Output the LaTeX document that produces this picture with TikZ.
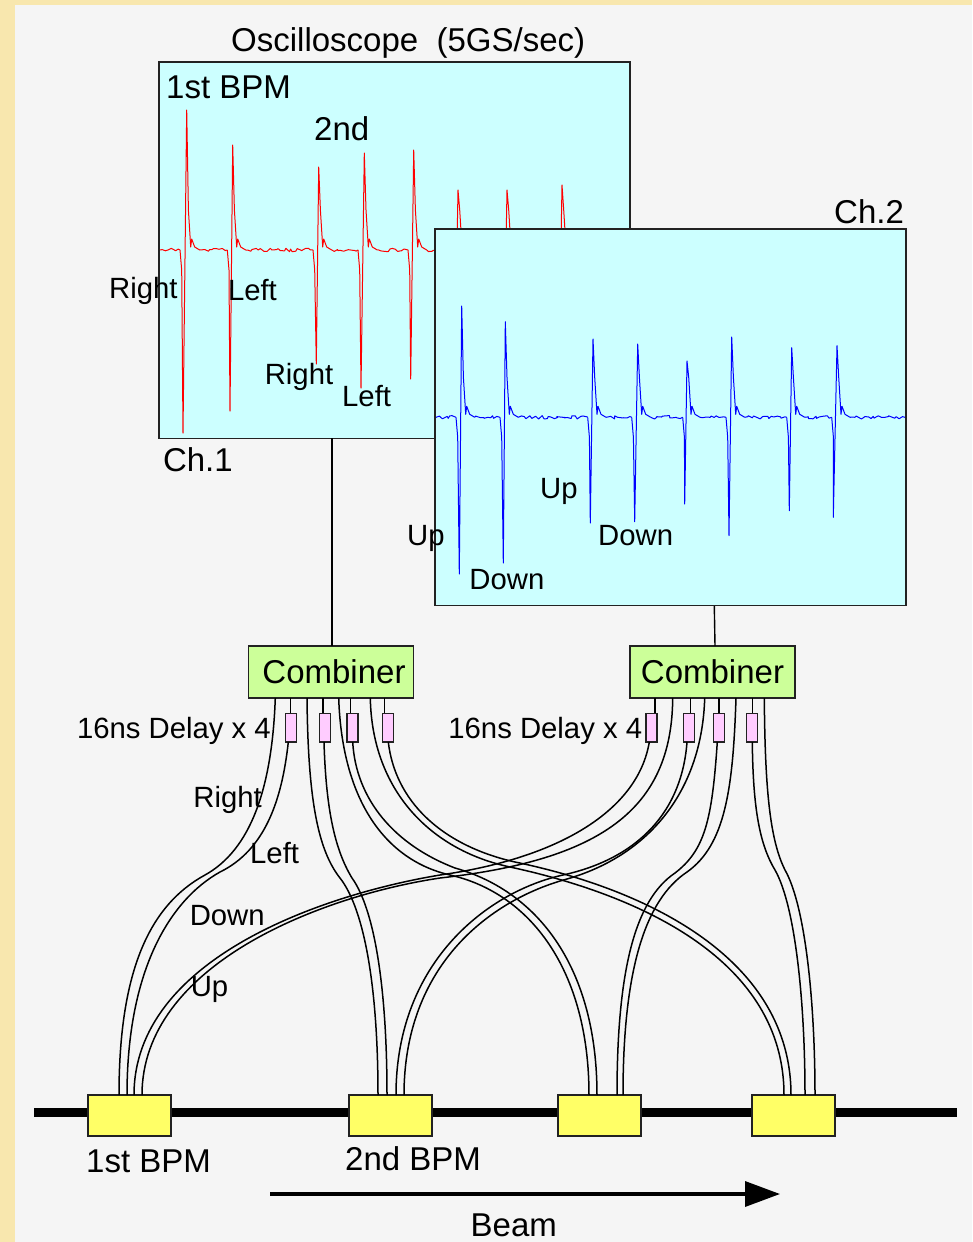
\documentclass[tikz,border=0pt]{standalone}
\usepackage{fontspec}
\setmainfont{Liberation Sans}
\usetikzlibrary{arrows.meta,decorations.pathmorphing}
\definecolor{cream}{HTML}{F8E7AE}
\definecolor{panel}{HTML}{F5F5F5}
\definecolor{scope}{HTML}{CCFFFF}
\definecolor{combfill}{HTML}{CCFF99}
\definecolor{delayfill}{HTML}{FFCCFF}
\definecolor{bpmfill}{HTML}{FFFF66}
\definecolor{edge}{HTML}{222222}
\newcommand\bigfont{\fontsize{33}{36}\selectfont}
\newcommand\midfont{\fontsize{29.3}{33}\selectfont}
\tikzset{
  boxbase/.style={draw=edge,line width=1.5pt,rectangle,inner sep=0pt,outer sep=0pt,anchor=north west},
  scopebox/.style={boxbase,fill=scope,minimum width=471pt,minimum height=376.5pt},
  combbox/.style={boxbase,fill=combfill,minimum width=165pt,minimum height=52pt,font=\bigfont},
  delaybox/.style={boxbase,fill=delayfill,minimum width=11pt,minimum height=28.5pt},
  bpmbox/.style={boxbase,fill=bpmfill,minimum width=83pt,minimum height=41pt},
  bigtext/.style={inner sep=0pt,anchor=base west,font=\bigfont,text=black},
  midtext/.style={inner sep=0pt,anchor=base west,font=\midfont,text=black},
  cablewire/.style={draw=black,line width=1.5pt},
  wirelink/.style={draw=black,line width=1.4pt},
  wave/.style={line width=1pt,line join=round},
  noisy/.style={wave,decorate,decoration={random steps,segment length=2.5pt,amplitude=1.7pt}}
}
% baseline y, colour, fall x, tip x, tip y, top x, top y, next fall x
\newcommand\wavepulse[8]{%
  \draw[wave,#2] (#3,#1) -- (#3+1.7,#1+20) -- (#4,#5) -- (#6,#7) -- (#6+1.7,#1-40)
    -- (#6+4,#1-3) -- (#6+5,#1-11) -- (#6+8,#1-3) -- (#6+13,#1);
  \draw[noisy,#2] (#6+13,#1) -- (#8,#1);
}
\begin{document}
\begin{tikzpicture}[x=1pt,y=-1pt]
\useasboundingbox (0,0) rectangle (972,1242);
\fill[cream] (0,0) rectangle (972,1242);
\fill[panel] (15,5) rectangle (972,1242);
\pgfmathsetseed{7}
% Ch.1
\node[scopebox] (ch1) at (159,62) {};
\draw[noisy,red] (160,250) -- (180,250);
\wavepulse{250}{red}{180}{183}{433}{186.7}{110}{227.3}
\wavepulse{250}{red}{227.3}{230}{411}{232.7}{145}{313}
\wavepulse{250}{red}{313}{316.3}{364}{318.7}{167}{358}
\wavepulse{250}{red}{358}{361}{388}{364.3}{153}{408}
\wavepulse{250}{red}{408}{410.7}{379}{413.7}{150}{454}
\wavepulse{250}{red}{454}{456}{300}{458}{190}{503}
\wavepulse{250}{red}{503}{505}{300}{507}{190}{558}
\wavepulse{250}{red}{558}{560}{300}{562}{185}{629}
% Ch.2
\node[scopebox] (ch2) at (435,229) {};
\draw[noisy,blue] (436,417.3) -- (456,417.3);
\wavepulse{417.3}{blue}{456}{459.3}{574}{461.7}{306}{500}
\wavepulse{417.3}{blue}{500}{503.3}{563}{505.3}{321.7}{587.7}
\wavepulse{417.3}{blue}{587.7}{590.3}{523}{593}{339}{631.7}
\wavepulse{417.3}{blue}{631.7}{634.7}{521.7}{637.7}{344}{682.7}
\wavepulse{417.3}{blue}{682.7}{684.7}{504}{687}{361}{726}
\wavepulse{417.3}{blue}{726}{729}{535.7}{731.7}{337}{786.7}
\wavepulse{417.3}{blue}{786.7}{789.3}{510.7}{791.7}{347.7}{831.7}
\wavepulse{417.3}{blue}{831.7}{833.3}{517.3}{837}{345.7}{905}
% Combiners
\node[combbox] (c1) at (248.5,646) {\hspace*{6pt}\raisebox{-2.4pt}{Combiner}};
\node[combbox] (c2) at (630,646) {\raisebox{-2.4pt}{Combiner}};
\coordinate (ch1out) at (332,438);
\coordinate (c1in) at (332,646);
\coordinate (ch2out) at (714.3,606);
\coordinate (c2in) at (715,646);
\draw[wirelink] (ch1out) -- (c1in);
\draw[wirelink] (ch2out) -- (c2in);
% Delays
\node[delaybox] (d1) at (285.7,713.3) {};
\node[delaybox] (d2) at (319.3,713.3) {};
\node[delaybox] (d3) at (347,713.3) {};
\node[delaybox] (d4) at (382.7,713.3) {};
\node[delaybox] (d5) at (646,713.3) {};
\node[delaybox] (d6) at (683.3,713.3) {};
\node[delaybox] (d7) at (713.3,713.3) {};
\node[delaybox] (d8) at (746.7,713.3) {};
\draw[wirelink] (290.7,698) -- (290.7,713.3);
\draw[wirelink] (323,698) -- (323,713.3);
\draw[wirelink] (350.3,698) -- (350.3,713.3);
\draw[wirelink] (384.3,698) -- (384.3,713.3);
\draw[wirelink] (655,698) -- (655,713.3);
\draw[wirelink] (690.3,698) -- (690.3,713.3);
\draw[wirelink] (719,698) -- (719,713.3);
\draw[wirelink] (752.3,698) -- (752.3,713.3);
% Beam line and BPMs
\coordinate (pipeL) at (34,1112.5);
\coordinate (pipeR) at (957,1112.5);
\draw[black,line width=9pt] (pipeL) -- (pipeR);
\node[bpmbox] (b1) at (88,1095) {};
\node[bpmbox] (b2) at (349,1095) {};
\node[bpmbox] (b3) at (558,1095) {};
\node[bpmbox] (b4) at (752,1095) {};
% Cables
\draw[cablewire] (275.3,698) .. controls (272,790) and (250,850) .. (205,875) .. controls (150,905) and (119,970) .. (119,1095);
\draw[cablewire] (288.3,742) .. controls (282,800) and (265,850) .. (220,872) .. controls (170,900) and (127,970) .. (127,1095);
\draw[cablewire] (307,698) .. controls (308,800) and (318,850) .. (340,878) .. controls (365,910) and (378,990) .. (378,1095);
\draw[cablewire] (324,742) .. controls (326,810) and (335,850) .. (352,878) .. controls (375,910) and (387,990) .. (387,1095);
\draw[cablewire] (338.7,698) .. controls (342,800) and (385,860) .. (450,875) .. controls (530,893) and (589,970) .. (589,1095);
\draw[cablewire] (352.7,742) .. controls (356,800) and (395,845) .. (455,868) .. controls (540,892) and (597,970) .. (597,1095);
\draw[cablewire] (370.3,698) .. controls (372,790) and (430,850) .. (510,867) .. controls (640,895) and (784,960) .. (784,1095);
\draw[cablewire] (388.3,742) .. controls (395,800) and (440,845) .. (515,862) .. controls (650,890) and (791,960) .. (791,1095);
\draw[cablewire] (649.3,742) .. controls (638,810) and (560,858) .. (440,875) .. controls (320,895) and (134,960) .. (134,1095);
\draw[cablewire] (672.7,698) .. controls (672,810) and (600,860) .. (440,878) .. controls (320,896) and (142,965) .. (142,1095);
\draw[cablewire] (687,742) .. controls (682,810) and (640,858) .. (563,875) .. controls (490,891) and (396,960) .. (396,1095);
\draw[cablewire] (704.7,698) .. controls (702,790) and (650,855) .. (567,879) .. controls (490,900) and (404,965) .. (404,1095);
\draw[cablewire] (717.3,742) .. controls (712,820) and (705,850) .. (675,873) .. controls (635,900) and (617,970) .. (617,1095);
\draw[cablewire] (736,698) .. controls (733,790) and (725,845) .. (687,872) .. controls (645,900) and (623,970) .. (623,1095);
\draw[cablewire] (752.3,742) .. controls (753,810) and (760,845) .. (775,870) .. controls (795,905) and (805,1000) .. (805,1095);
\draw[cablewire] (764.3,698) .. controls (765,790) and (770,840) .. (785,870) .. controls (805,905) and (815,1000) .. (815,1095);
% Beam arrow
\coordinate (beamS) at (270,1194);
\coordinate (beamE) at (780,1194);
\draw[black,line width=3.5pt,-{Triangle[length=35pt,width=25pt]}] (beamS) -- (beamE);
% Labels
\node[bigtext] (t1) at (231,51) {Oscilloscope\ \ (5GS/sec)};
\node[bigtext] (t2) at (166,98.5) {1st BPM};
\node[bigtext] (t3) at (314,140) {2nd};
\node[bigtext] (t4) at (162.8,471) {Ch.1};
\node[bigtext] (t5) at (834,223) {Ch.2};
\node[midtext] (t6) at (109,298) {Right};
\node[midtext] (t7) at (227.8,300) {Left};
\node[midtext] (t8) at (264.6,384) {Right};
\node[midtext] (t9) at (342,406) {Left};
\node[midtext] (t10) at (407,545) {Up};
\node[midtext] (t11) at (469.2,589) {Down};
\node[midtext] (t12) at (540,498.5) {Up};
\node[midtext] (t13) at (598,545) {Down};
\node[midtext] (t14) at (76.8,738.5) {16ns Delay x 4};
\node[midtext] (t15) at (448.2,738.5) {16ns Delay x 4};
\node[midtext] (t16) at (193.2,807) {Right};
\node[midtext] (t17) at (250,863) {Left};
\node[midtext] (t18) at (189.6,925) {Down};
\node[midtext] (t19) at (190.6,996) {Up};
\node[bigtext] (t20) at (86,1172) {1st BPM};
\node[bigtext] (t21) at (345,1170) {2nd BPM};
\node[bigtext] (t22) at (470.5,1236) {Beam};
\end{tikzpicture}
\end{document}
